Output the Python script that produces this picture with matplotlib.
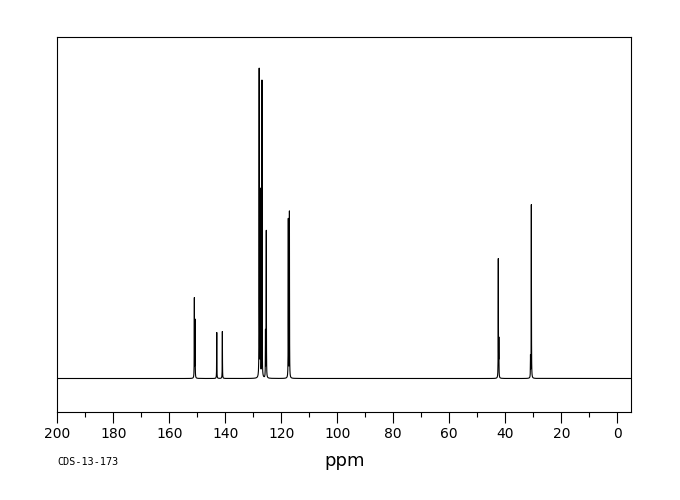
import numpy as np
import matplotlib
matplotlib.use("Agg")
import matplotlib.pyplot as plt

# peak list: shift (ppm) and height (baseline = 0)
shifts = [151.05, 150.8, 143.05, 141.05, 127.9, 127.5, 126.9, 125.65, 125.36,
          117.5, 117.1, 42.5, 42.3, 30.7, 31.0]
heights = [79.5, 57.5, 46, 47, 308, 186, 297, 46, 147,
           158.5, 166, 118.5, 37, 173.5, 21]
ticks_major = [200, 180, 160, 140, 120, 100, 80, 60, 40, 20, 0]
sample_id = "CDS-13-173"

# lorentzian line shape for each peak
gamma = 0.04
ppm = np.arange(-5.0, 200.0, 0.004)
ppm = np.unique(np.concatenate([ppm, shifts]))
spec = np.zeros_like(ppm)
for s, h in zip(shifts, heights):
    spec += h * gamma**2 / ((ppm - s)**2 + gamma**2)

fig = plt.figure(figsize=(6.8, 5.0), dpi=100)
ax = fig.add_axes([57.3/680, 1-412/500, (631-57.3)/680, (412-37)/500])
ax.plot(ppm, spec, color="black", lw=0.8)

ax.set_xlim(200, 200 - (631-57.3)/2.8)
ax.set_ylim(-33.5, 341.5)
ax.set_yticks([])
ax.set_xticks(ticks_major)
ax.set_xticks(np.arange(10, 200, 20), minor=True)
ax.tick_params(axis="x", which="major", direction="out", length=8, width=0.8,
               labelsize=10, pad=3)
ax.tick_params(axis="x", which="minor", direction="out", length=3.8, width=0.8)
for sp in ax.spines.values():
    sp.set_linewidth(0.8)

fig.text(345/680, 1-461/500, "ppm", ha="center", va="center", fontsize=13)
fig.text(57/680, 1-462/500, sample_id, ha="left", va="center", fontsize=7.3,
         family="DejaVu Sans Mono")

fig.savefig("out.png", dpi=100)
